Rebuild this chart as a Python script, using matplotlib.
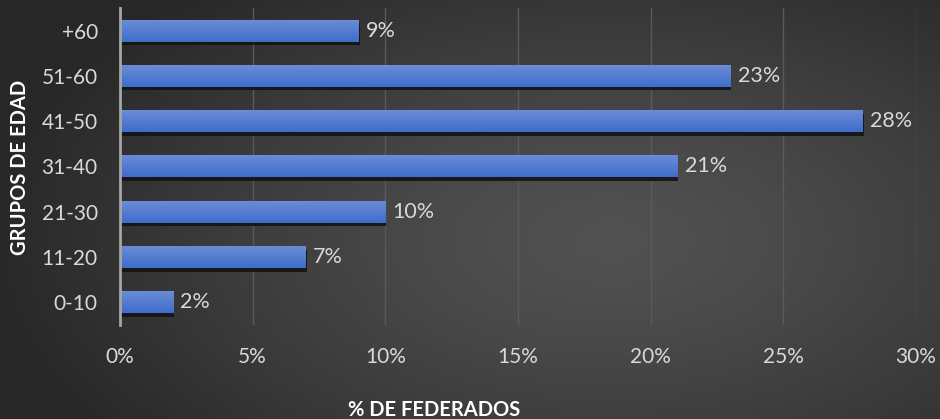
import numpy as np
import matplotlib
matplotlib.use('Agg')
import matplotlib.pyplot as plt
import matplotlib.patheffects as pe
from matplotlib.colors import LinearSegmentedColormap

# === Data ===
grupos = ['0-10', '11-20', '21-30', '31-40', '41-50', '51-60', '+60']
porcentajes = [2, 7, 10, 21, 28, 23, 9]
x_ticks = [0, 5, 10, 15, 20, 25, 30]

plt.rcParams['font.family'] = ['Lato', 'DejaVu Sans']

W, H = 940, 419
fig = plt.figure(figsize=(W / 100, H / 100), dpi=100)

# === Radial background ===
bg = fig.add_axes([0, 0, 1, 1], zorder=-10)
yy, xx = np.mgrid[0:H, 0:W]
r = np.sqrt(((xx - 610) / 620.0) ** 2 + ((yy - 240) / 330.0) ** 2)
r = np.clip(r, 0, 1)
shade = 0x52 - (0x52 - 0x28) * r ** 1.3
img = np.dstack([shade, shade, shade]) / 255.0
bg.imshow(img, aspect='auto', extent=[0, 1, 0, 1])
bg.axis('off')

# === Bars ===
ax = fig.add_axes([120 / W, (H - 325) / H, (916 - 120) / W, (325 - 8) / H])
ax.patch.set_alpha(0)

bar_h = 0.48
y_pos = np.arange(len(grupos))
bars = ax.barh(y_pos, porcentajes, height=bar_h, color='#4f79cf', zorder=3,
               path_effects=[pe.SimplePatchShadow(offset=(0.8, -2.6),
                                                  shadow_rgbFace='#141414', alpha=0.9),
                             pe.Normal()])

blue = LinearSegmentedColormap.from_list('blue', ['#3e6dcb', '#6b8cd6'])
grad = np.linspace(0, 1, 64).reshape(-1, 1)
for y, v in zip(y_pos, porcentajes):
    ax.imshow(grad, cmap=blue, aspect='auto', origin='lower', zorder=4,
              extent=[0, v, y - bar_h / 2, y + bar_h / 2], interpolation='bilinear')
    ax.text(v + 0.28, y, f'{v}%', va='center', ha='left', color='#d9d9d9',
            fontsize=15.5, zorder=5)

ax.set_xlim(0, 30)
ax.set_ylim(-0.5, len(grupos) - 0.5)
ax.set_xticks(x_ticks)
ax.set_xticklabels([f'{t}%' for t in x_ticks])
ax.set_yticks(y_pos)
ax.set_yticklabels(grupos)
ax.tick_params(axis='x', length=0, pad=16, colors='#d9d9d9', labelsize=15)
ax.tick_params(axis='y', length=0, pad=16, colors='#d9d9d9', labelsize=15)
ax.grid(axis='x', color='#5a5a5a', linewidth=1, zorder=0)
ax.set_axisbelow(True)
for s in ['top', 'right', 'bottom']:
    ax.spines[s].set_visible(False)
ax.spines['left'].set_color('#a6a6a6')
ax.spines['left'].set_linewidth(2)
ax.spines['left'].set_zorder(6)

fig.text(434 / W, 1 - 410 / H, '% DE FEDERADOS', ha='center', va='center',
         color='white', fontsize=14.5, fontweight='bold')
fig.text(20 / W, 1 - 167 / H, 'GRUPOS DE EDAD', ha='center', va='center',
         rotation=90, color='white', fontsize=14.5, fontweight='bold')

fig.savefig('out.png', dpi=100)
